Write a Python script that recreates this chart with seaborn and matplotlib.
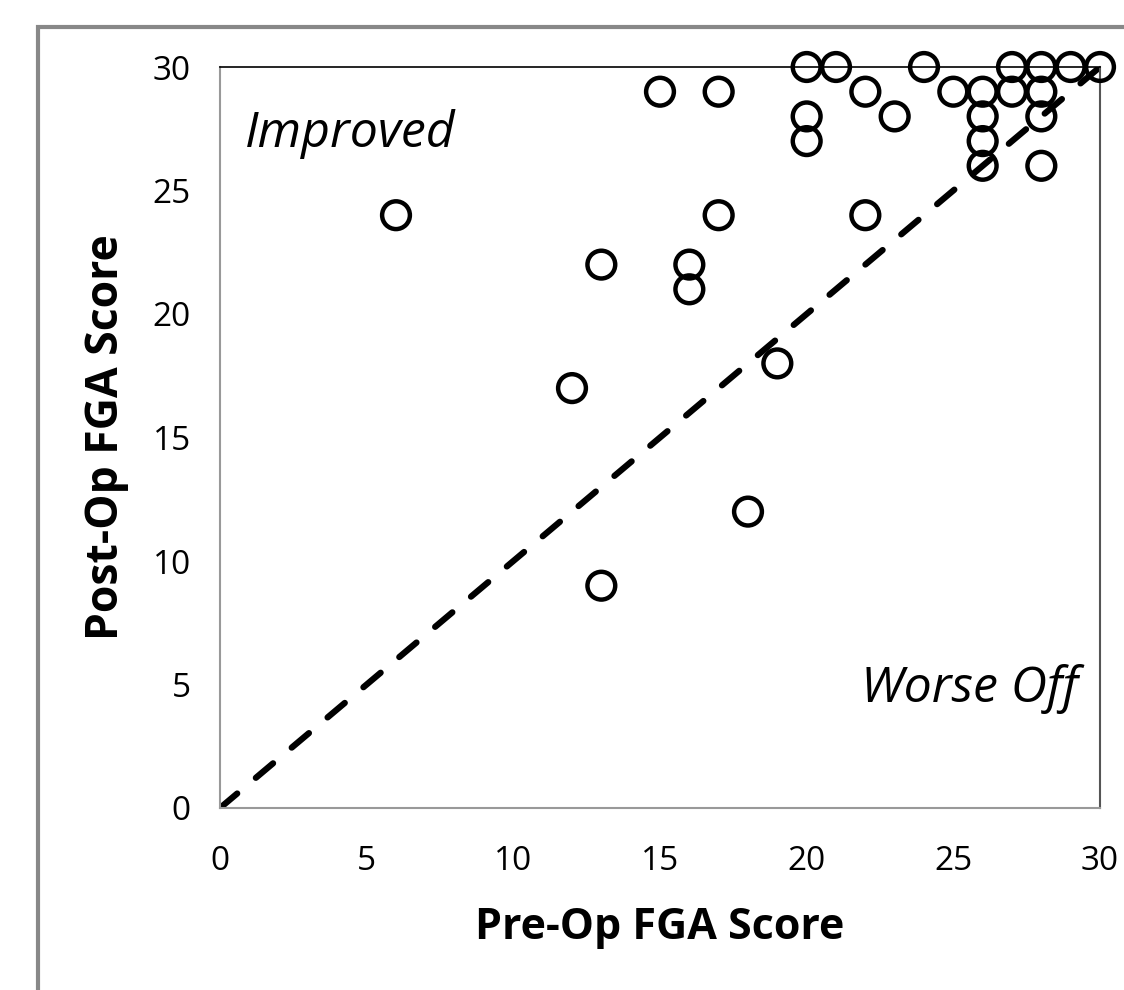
import numpy as np
import pandas as pd

import matplotlib
matplotlib.use("Agg")
import matplotlib.pyplot as plt
import seaborn as sns
from matplotlib.patches import Rectangle

# =====================================================
# DATA
# =====================================================

pre_op = [6, 12, 13, 13, 15, 16, 16, 17, 17, 18, 19,
          20, 20, 20, 21, 22, 22, 23, 24, 25,
          26, 26, 26, 26, 27, 27, 28, 28, 28, 28, 29, 30]
post_op = [24, 17, 22, 9, 29, 22, 21, 29, 24, 12, 18,
           30, 28, 27, 30, 29, 24, 28, 30, 29,
           29, 28, 27, 26, 30, 29, 30, 29, 28, 26, 30, 30]

ticks = [0, 5, 10, 15, 20, 25, 30]

df = pd.DataFrame({"pre": pre_op, "post": post_op})

# =====================================================
# PLOT
# =====================================================

sns.set_style("white")
plt.rcParams["font.family"] = ["Open Sans", "DejaVu Sans"]
plt.rcParams["text.color"] = "black"
plt.rcParams["axes.labelcolor"] = "black"

fig = plt.figure(figsize=(11.24, 9.9), dpi=100)
ax = fig.add_axes([220 / 1124, 1 - 808 / 990, 880 / 1124, 741 / 990])

# line of no change
ax.plot([0, 30], [0, 30], color="black", lw=4.5,
        linestyle=(0, (3.6, 3.9)), zorder=2,
        dash_capstyle="round")

sns.scatterplot(
    data=df, x="pre", y="post", ax=ax,
    marker="o", s=400, facecolor="none", edgecolor="black",
    linewidth=3.2, zorder=3, clip_on=False
)

ax.set_xlim(0, 30)
ax.set_ylim(0, 30)
ax.set_xticks(ticks)
ax.set_yticks(ticks)
ax.tick_params(axis="both", direction="out", length=13, width=1.5,
               color="#999999", labelsize=24, labelcolor="black")
ax.tick_params(axis="x", pad=14)
ax.tick_params(axis="y", pad=8)

for side in ["left", "bottom"]:
    ax.spines[side].set_color("#999999")
    ax.spines[side].set_linewidth(1.5)
ax.spines["right"].set_color("#555555")
ax.spines["right"].set_linewidth(1.5)
ax.spines["top"].set_color("black")
ax.spines["top"].set_linewidth(1.2)

ax.set_xlabel("Pre-Op FGA Score", fontsize=31, fontweight="bold")
ax.set_ylabel("Post-Op FGA Score", fontsize=32, fontweight="bold")
ax.xaxis.set_label_coords(0.5, (808 - 906) / 741)
ax.yaxis.set_label_coords((129 - 220) / 880, 0.5)

ax.text(0.85, 27.3, "Improved", fontsize=36, style="italic", ha="left", va="center")
ax.text(29.25, 4.8, "Worse Off", fontsize=36, style="italic", ha="right", va="center")

# outer chart border
fig.patches.append(Rectangle((38 / 1124, -0.1), 1.2, 1.1 - 27 / 990,
                             transform=fig.transFigure, fill=False,
                             edgecolor="#888888", lw=3, zorder=0))

fig.savefig("out.png", dpi=100)
plt.close(fig)
